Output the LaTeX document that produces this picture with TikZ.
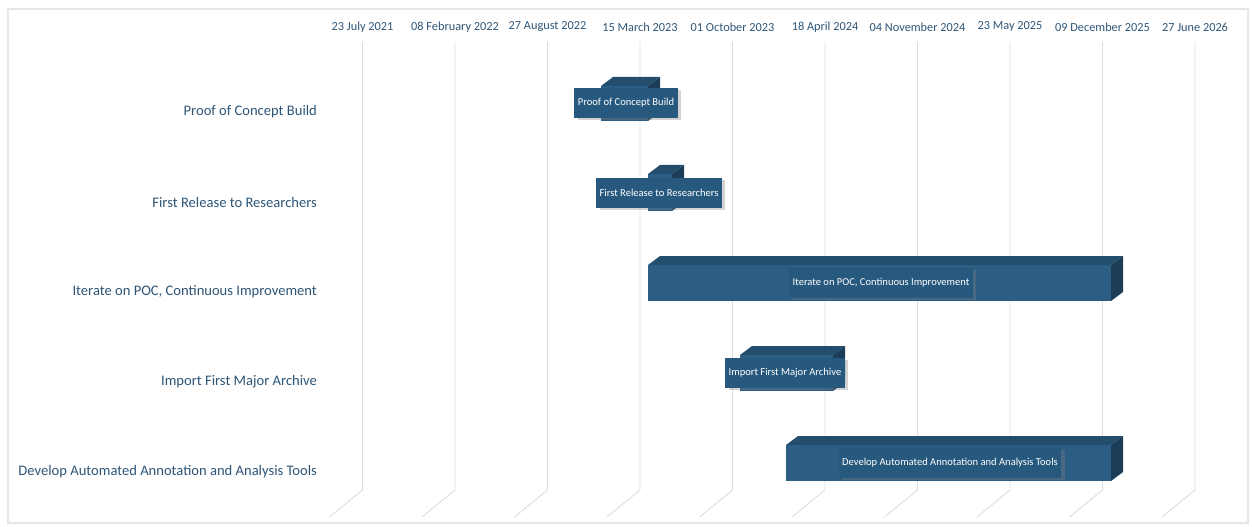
\documentclass[tikz,border=0pt]{standalone}
\usepackage{fontspec}
\setmainfont{Carlito}
\usepackage{xcolor}
\usepackage{tikz}
\usetikzlibrary{positioning,calc,shadows}
\definecolor{azul}{HTML}{2C5E84}
\definecolor{azultapa}{HTML}{234D6C}
\definecolor{azullado}{HTML}{1B3D58}
\definecolor{azuletiq}{HTML}{27587D}
\definecolor{texto}{HTML}{2D5577}
\definecolor{rejilla}{HTML}{DCDCDC}
\definecolor{marco}{HTML}{E6E6E6}
% barra 3D: x inicio, x fin, y arriba, y abajo
\newcommand{\barra}[4]{%
  \fill[azultapa] (#1,#3) -- ++(12,-9) -- (#2+12,#3-9) -- (#2,#3) -- cycle;
  \fill[azullado] (#2,#3) -- ++(12,-9) -- (#2+12,#4-9) -- (#2,#4) -- cycle;
  \fill[azul] (#1,#3) rectangle (#2,#4);
}
\tikzset{
  fecha/.style={font=\fontsize{7}{8}\selectfont,text=texto,inner sep=1pt},
  fila/.style={font=\fontsize{8.3}{9}\selectfont,text=texto,anchor=east,inner sep=1pt},
  etiq/.style={fill=azuletiq,text=white,font=\fontsize{6}{7}\selectfont,inner sep=2pt,
    minimum height=17,drop shadow={shadow xshift=2pt,shadow yshift=-1pt,opacity=0.35}},
  linea/.style={rejilla,line width=0.5pt},
}
\begin{document}
\begin{tikzpicture}[x=0.02cm,y=-0.02cm]
  \useasboundingbox (0,0) rectangle (1252,527);
  \draw[marco,line width=0.6pt] (8,9) rectangle (1248,523);
  % rejilla de fechas
  \foreach \f [count=\i] in {23 July 2021,08 February 2022,27 August 2022,15 March 2023,01 October 2023,18 April 2024,04 November 2024,23 May 2025,09 December 2025,27 June 2026} {
    \pgfmathsetmacro{\xx}{362.5+92.5*(\i-1)}
    \node[fecha] (f\i) at (\xx,27) {\f};
    \draw[linea] (\xx,42) -- (\xx,490) -- ++(-33,27);
  }
  % filas
  \node[fila] (r1) at (319,112) {Proof of Concept Build};
  \node[fila] (r2) at (319,202) {First Release to Researchers};
  \node[fila] (r3) at (319,292) {Iterate on POC, Continuous Improvement};
  \node[fila] (r4) at (319,382) {Import First Major Archive};
  \node[fila] (r5) at (319,472) {Develop Automated Annotation and Analysis Tools};
  % barras
  \barra{601}{648}{86}{121}
  \barra{648}{672}{174}{211}
  \barra{648}{1111}{265}{301}
  \barra{740}{833}{355}{391}
  \barra{786}{1111}{445}{481}
  \node[etiq] (e1) at (626,103) {Proof of Concept Build};
  \node[etiq] (e2) at (659,193) {First Release to Researchers};
  \node[etiq] (e3) at (881,283) {Iterate on POC, Continuous Improvement};
  \node[etiq] (e4) at (785,373) {Import First Major Archive};
  \node[etiq] (e5) at (950,463) {Develop Automated Annotation and Analysis Tools};
\end{tikzpicture}
\end{document}
